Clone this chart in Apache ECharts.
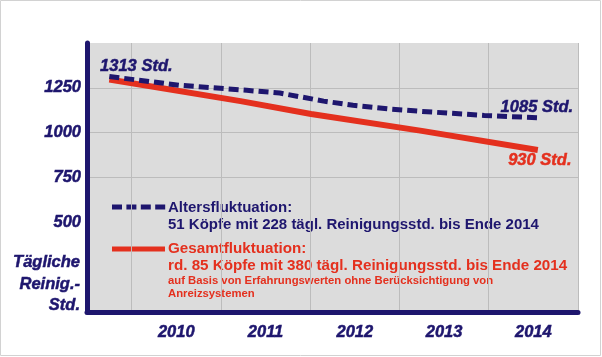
<!DOCTYPE html>
<html>
<head>
<meta charset="utf-8">
<script src="https://cdn.jsdelivr.net/npm/echarts@6/dist/echarts.min.js"></script>
<style>
html,body{margin:0;padding:0;background:#fff;}
#c{width:602px;height:357px;}
</style>
</head>
<body>
<div id="c"></div>
<script>
// ---- data ----
const xTickLabels = ['2010', '2011', '2012', '2013', '2014'];
const yTickLabels = [500, 750, 1000, 1250];
const altersX = [2009.75, 2010.54, 2011.29, 2011.66, 2012.15, 2012.48, 2012.87, 2013.21, 2013.95, 2014.55];
const altersY = [1313, 1264, 1236, 1221, 1176, 1153, 1133, 1120, 1096, 1083];
const gesamtX = [2009.75, 2011.22, 2012.01, 2013.25, 2014.55];
const gesamtY = [1296, 1176, 1104, 1010, 903];
const altersStartLabel = '1313 Std.';
const altersEndLabel = '1085 Std.';
const gesamtEndLabel = '930 Std.';
const yName = 'Tägliche\nReinig.-\nStd.';
const legendAlters = ['Altersfluktuation:', '51 Köpfe mit 228 tägl. Reinigungsstd. bis Ende 2014'];
const legendGesamt = ['Gesamtfluktuation:', 'rd. 85 Köpfe mit 380 tägl. Reinigungsstd. bis Ende 2014'];
const legendNote = ['auf Basis von Erfahrungswerten ohne Berücksichtigung von', 'Anreizsystemen'];

const NAVY = '#1e166e';
const RED = '#e4301e';
const FONT = 'Liberation Sans, Arial, sans-serif';

function pairs(xs, ys, firstLabel, lastLabel) {
  return xs.map((x, i) => {
    const item = { value: [x, ys[i]] };
    let lab = null;
    if (i === 0 && firstLabel) lab = firstLabel;
    if (i === xs.length - 1 && lastLabel) lab = lastLabel;
    if (lab) {
      item.label = lab;
      item.symbol = 'circle';
      item.symbolSize = 1;
      item.itemStyle = { color: 'rgba(0,0,0,0)', borderWidth: 0 };
    }
    return item;
  });
}

const heavy = (c) => ({ textBorderColor: c, textBorderWidth: 0.5 });
const labelBase = { show: true, fontFamily: FONT, fontWeight: 'bold', fontStyle: 'italic', fontSize: 16.5 };

// legend sample dashes for "Altersfluktuation"
const dashRects = [0, 1, 2, 3].map(i => ({
  type: 'rect', silent: true, shape: { x: 112 + i * 14.4, y: 204.5, width: 10, height: 5 }, style: { fill: NAVY }
}));

const chart = echarts.init(document.getElementById('c'), null, { renderer: 'canvas' });
chart.setOption({
  animation: false,
  backgroundColor: '#ffffff',
  grid: { left: 87, right: 24, top: 43, bottom: 45, show: true, backgroundColor: '#dcdcdc', borderWidth: 0 },
  xAxis: {
    type: 'value', min: 2009.5, max: 2015, interval: 0.5,
    axisLine: { show: true, onZero: false, lineStyle: { color: NAVY, width: 5 } },
    axisTick: { show: false },
    splitLine: { show: true, lineStyle: { color: ['rgba(0,0,0,0)', '#bcbcbc'], width: 1 } },
    axisLabel: Object.assign({
      margin: 12, color: NAVY, fontFamily: FONT, fontWeight: 'bold', fontStyle: 'italic', fontSize: 16.5,
      formatter: function (v) {
        const idx = Math.round((v - 2010.5) * 1000) / 1000;
        if (Number.isInteger(idx) && idx >= 0 && idx < xTickLabels.length) return xTickLabels[idx];
        return '';
      }
    }, heavy(NAVY))
  },
  yAxis: {
    type: 'value', min: 0, max: 1500, interval: 250,
    axisLine: { show: true, lineStyle: { color: NAVY, width: 5 } },
    axisTick: { show: false },
    splitLine: { show: true, lineStyle: { color: ['rgba(0,0,0,0)', 'rgba(0,0,0,0)', 'rgba(0,0,0,0)', '#bcbcbc', '#bcbcbc', '#bcbcbc', 'rgba(0,0,0,0)'], width: 1 } },
    axisLabel: Object.assign({
      margin: 6, color: NAVY, fontFamily: FONT, fontWeight: 'bold', fontStyle: 'italic', fontSize: 16.5,
      formatter: function (v) { return yTickLabels.indexOf(v) >= 0 ? String(v) : ''; }
    }, heavy(NAVY))
  },
  series: [
    {
      name: 'Altersfluktuation', type: 'line', showSymbol: true, symbol: 'none', showAllSymbol: true,
      lineStyle: { color: NAVY, width: 5, type: [10, 5], cap: 'butt' },
      label: { show: false },
      data: pairs(altersX, altersY,
        Object.assign({}, labelBase, heavy(NAVY), { formatter: altersStartLabel, position: 'top', offset: [27, 3], color: NAVY, distance: 4 }),
        Object.assign({}, labelBase, heavy(NAVY), { formatter: altersEndLabel, position: 'top', offset: [-1, 4], color: NAVY, distance: 5 })
      ),
      z: 3
    },
    {
      name: 'Gesamtfluktuation', type: 'line', showSymbol: true, symbol: 'none', showAllSymbol: true,
      lineStyle: { color: RED, width: 6, cap: 'butt' },
      label: { show: false },
      data: pairs(gesamtX, gesamtY, null,
        Object.assign({}, labelBase, heavy(RED), { formatter: gesamtEndLabel, position: 'bottom', offset: [2, 0], color: RED, distance: 1 })
      ),
      z: 2
    }
  ],
  graphic: [
    { type: 'rect', silent: true, shape: { x: 0.5, y: 0.5, width: 600, height: 355 }, style: { fill: null, stroke: '#d2d2d2', lineWidth: 1 } },
    { type: 'text', silent: true, x: 80, y: 252, style: { text: yName, align: 'right', verticalAlign: 'top', fill: NAVY, stroke: NAVY, lineWidth: 0.5, font: 'italic bold 16.5px ' + FONT, lineHeight: 21.5 } },
    ...dashRects,
    { type: 'text', silent: true, x: 168, y: 199, style: { text: legendAlters.join('\n'), fill: NAVY, font: 'bold 15px ' + FONT, lineHeight: 17 } },
    { type: 'line', silent: true, shape: { x1: 112, y1: 249, x2: 165, y2: 249 }, style: { stroke: RED, lineWidth: 5 } },
    { type: 'text', silent: true, x: 168, y: 240, style: { text: legendGesamt.join('\n'), fill: RED, font: 'bold 15.2px ' + FONT, lineHeight: 17 } },
    { type: 'text', silent: true, x: 168, y: 275, style: { text: legendNote.join('\n'), fill: RED, font: 'bold 11.3px ' + FONT, lineHeight: 12.5 } }
  ]
});
</script>
</body>
</html>
